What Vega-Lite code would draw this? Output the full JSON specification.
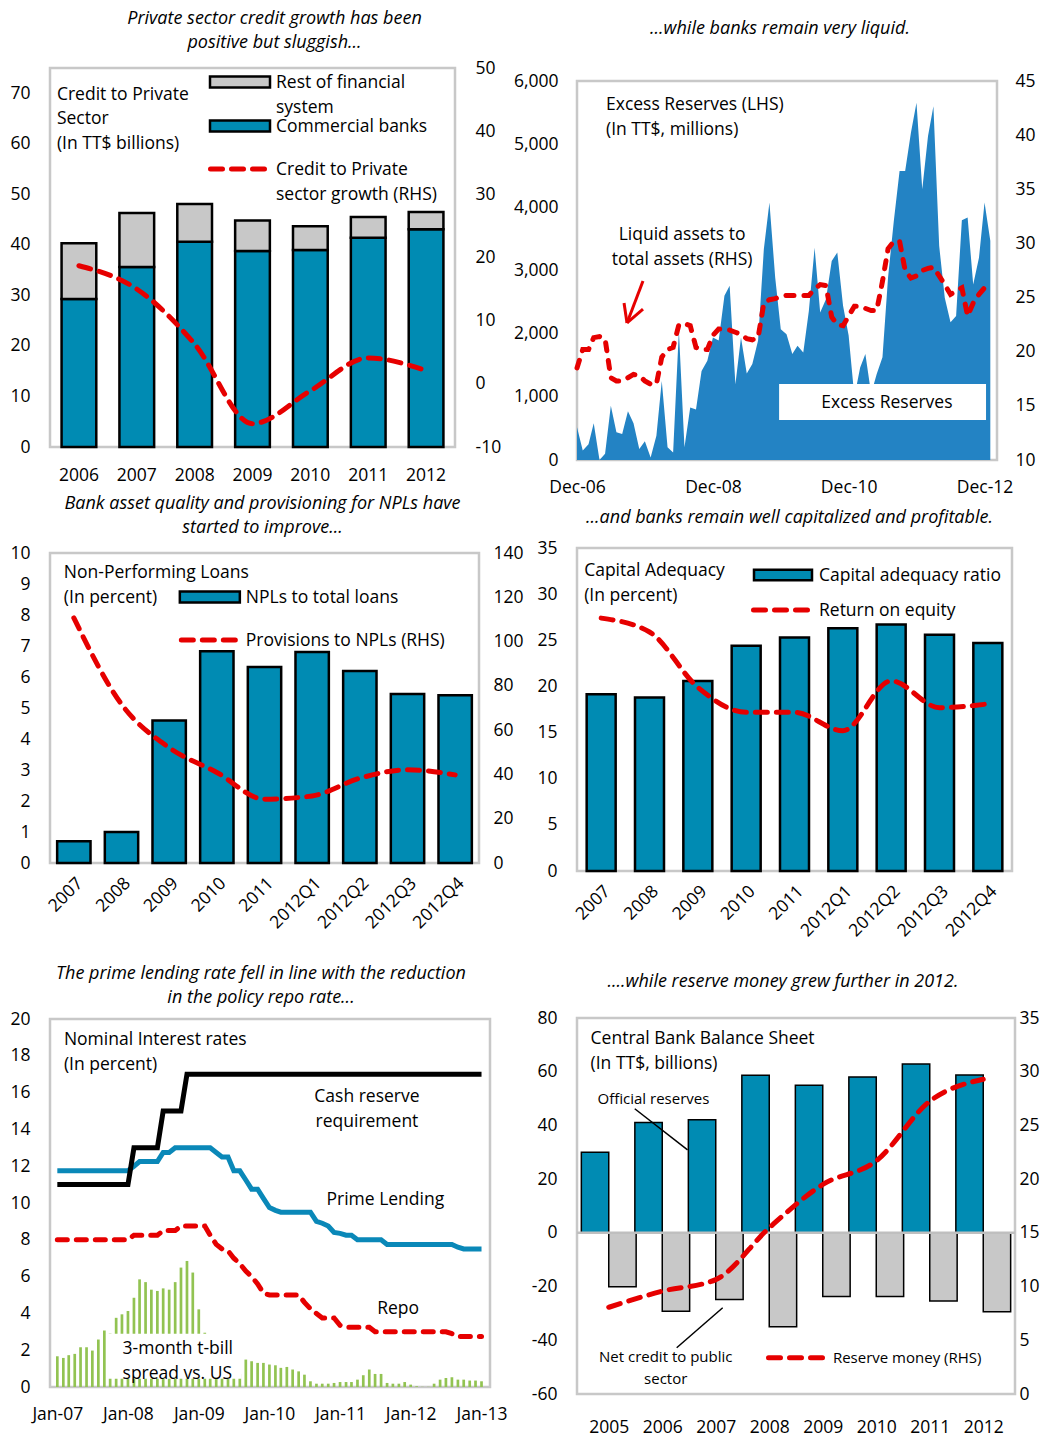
{
"$schema": "https://vega.github.io/schema/vega-lite/v6.json",
"padding": {"left": 0, "top": 8, "right": 0, "bottom": 0},
"datasets": {
"p1": [
{"year":"2006","series":"Commercial banks","value":29.3},{"year":"2006","series":"Rest of financial system","value":11.0},
{"year":"2007","series":"Commercial banks","value":35.6},{"year":"2007","series":"Rest of financial system","value":10.7},
{"year":"2008","series":"Commercial banks","value":40.6},{"year":"2008","series":"Rest of financial system","value":7.5},
{"year":"2009","series":"Commercial banks","value":38.8},{"year":"2009","series":"Rest of financial system","value":6.0},
{"year":"2010","series":"Commercial banks","value":39.0},{"year":"2010","series":"Rest of financial system","value":4.7},
{"year":"2011","series":"Commercial banks","value":41.4},{"year":"2011","series":"Rest of financial system","value":4.1},
{"year":"2012","series":"Commercial banks","value":43.1},{"year":"2012","series":"Rest of financial system","value":3.4}],
"p1g": [{"year":"2006","growth":18.7},{"year":"2007","growth":15.0},{"year":"2008","growth":6.3},{"year":"2009","growth":-6.3},{"year":"2010","growth":-1.1},{"year":"2011","growth":4.1},{"year":"2012","growth":2.1}],
"p2": [
{"d":"2006-12-01","er":520,"la":18.5},{"d":"2007-01-01","er":150,"la":20.2},{"d":"2007-02-01","er":250,"la":20.2},{"d":"2007-03-01","er":580,"la":21.3},{"d":"2007-04-01","er":0,"la":21.4},{"d":"2007-05-01","er":100,"la":21.2},{"d":"2007-06-01","er":860,"la":17.6},{"d":"2007-07-01","er":440,"la":17.3},{"d":"2007-08-01","er":410,"la":17.3},{"d":"2007-09-01","er":770,"la":17.6},{"d":"2007-10-01","er":580,"la":17.9},{"d":"2007-11-01","er":175,"la":17.8},
{"d":"2007-12-01","er":295,"la":17.3},{"d":"2008-01-01","er":40,"la":17.0},{"d":"2008-02-01","er":385,"la":17.0},{"d":"2008-03-01","er":1250,"la":19.5},{"d":"2008-04-01","er":200,"la":20.2},{"d":"2008-05-01","er":120,"la":20.4},{"d":"2008-06-01","er":2045,"la":22.5},{"d":"2008-07-01","er":200,"la":22.6},{"d":"2008-08-01","er":830,"la":22.4},{"d":"2008-09-01","er":800,"la":20.4},{"d":"2008-10-01","er":1410,"la":20.2},{"d":"2008-11-01","er":1570,"la":20.2},
{"d":"2008-12-01","er":1940,"la":21.5},{"d":"2009-01-01","er":1890,"la":22.1},{"d":"2009-02-01","er":2600,"la":22.1},{"d":"2009-03-01","er":2760,"la":22.0},{"d":"2009-04-01","er":1200,"la":21.8},{"d":"2009-05-01","er":1940,"la":21.6},{"d":"2009-06-01","er":1370,"la":21.2},{"d":"2009-07-01","er":1520,"la":21.1},{"d":"2009-08-01","er":1890,"la":21.3},{"d":"2009-09-01","er":3340,"la":24.5},{"d":"2009-10-01","er":4075,"la":24.8},{"d":"2009-11-01","er":2890,"la":24.9},
{"d":"2009-12-01","er":2070,"la":25.1},{"d":"2010-01-01","er":1990,"la":25.2},{"d":"2010-02-01","er":1680,"la":25.2},{"d":"2010-03-01","er":1810,"la":25.2},{"d":"2010-04-01","er":1700,"la":25.2},{"d":"2010-05-01","er":2360,"la":25.2},{"d":"2010-06-01","er":3360,"la":25.8},{"d":"2010-07-01","er":2335,"la":26.2},{"d":"2010-08-01","er":2545,"la":26.1},{"d":"2010-09-01","er":3150,"la":23.2},{"d":"2010-10-01","er":3285,"la":22.5},{"d":"2010-11-01","er":2440,"la":22.4},
{"d":"2010-12-01","er":1970,"la":23.3},{"d":"2011-01-01","er":1000,"la":24.2},{"d":"2011-02-01","er":1465,"la":24.2},{"d":"2011-03-01","er":1680,"la":24.0},{"d":"2011-04-01","er":1050,"la":23.8},{"d":"2011-05-01","er":1360,"la":23.8},{"d":"2011-06-01","er":1625,"la":26.5},{"d":"2011-07-01","er":2890,"la":29.5},{"d":"2011-08-01","er":3785,"la":30.2},{"d":"2011-09-01","er":4575,"la":30.2},{"d":"2011-10-01","er":4575,"la":27.5},{"d":"2011-11-01","er":5180,"la":26.8},
{"d":"2011-12-01","er":5655,"la":27.0},{"d":"2012-01-01","er":4285,"la":27.5},{"d":"2012-02-01","er":5130,"la":27.7},{"d":"2012-03-01","er":5600,"la":27.8},{"d":"2012-04-01","er":3390,"la":27.0},{"d":"2012-05-01","er":2570,"la":26.2},{"d":"2012-06-01","er":2180,"la":25.3},{"d":"2012-07-01","er":2280,"la":25.6},{"d":"2012-08-01","er":3795,"la":25.9},{"d":"2012-09-01","er":3840,"la":23.3},{"d":"2012-10-01","er":2780,"la":24.5},{"d":"2012-11-01","er":3200,"la":25.3},
{"d":"2012-12-01","er":4075,"la":25.9},{"d":"2013-01-01","er":3470,"la":null}],
"p3": [
{"cat":"2007","npl":0.70,"prov":110.7},{"cat":"2008","npl":1.0,"prov":71.7},{"cat":"2009","npl":4.6,"prov":52.1},{"cat":"2010","npl":6.83,"prov":40.9},{"cat":"2011","npl":6.32,"prov":28.8},{"cat":"2012Q1","npl":6.81,"prov":30.3},{"cat":"2012Q2","npl":6.19,"prov":38.3},{"cat":"2012Q3","npl":5.45,"prov":42.1},{"cat":"2012Q4","npl":5.41,"prov":39.8}],
"p4": [
{"cat":"2007","car":19.15,"roe":27.4},{"cat":"2008","car":18.8,"roe":25.9},{"cat":"2009","car":20.6,"roe":19.9},{"cat":"2010","car":24.4,"roe":17.2},{"cat":"2011","car":25.3,"roe":17.2},{"cat":"2012Q1","car":26.3,"roe":15.2},{"cat":"2012Q2","car":26.7,"roe":20.6},{"cat":"2012Q3","car":25.6,"roe":17.7},{"cat":"2012Q4","car":24.7,"roe":18.1}],
"p5": [
{"d":"2007-01-01","crr":11,"pl":11.75,"repo":8.0,"tb":1.67},{"d":"2007-02-01","crr":11,"pl":11.75,"repo":8.0,"tb":1.58},{"d":"2007-03-01","crr":11,"pl":11.75,"repo":8.0,"tb":1.73},{"d":"2007-04-01","crr":11,"pl":11.75,"repo":8.0,"tb":1.8},{"d":"2007-05-01","crr":11,"pl":11.75,"repo":8.0,"tb":2.16},{"d":"2007-06-01","crr":11,"pl":11.75,"repo":8.0,"tb":2.16},{"d":"2007-07-01","crr":11,"pl":11.75,"repo":8.0,"tb":1.98},{"d":"2007-08-01","crr":11,"pl":11.75,"repo":8.0,"tb":2.58},{"d":"2007-09-01","crr":11,"pl":11.75,"repo":8.0,"tb":3.07},{"d":"2007-10-01","crr":11,"pl":11.75,"repo":8.0,"tb":2.9},{"d":"2007-11-01","crr":11,"pl":11.75,"repo":8.0,"tb":3.76},{"d":"2007-12-01","crr":11,"pl":11.75,"repo":8.0,"tb":3.95},
{"d":"2008-01-01","crr":11,"pl":11.75,"repo":8.0,"tb":4.13},{"d":"2008-02-01","crr":13,"pl":12.0,"repo":8.25,"tb":4.85},{"d":"2008-03-01","crr":13,"pl":12.25,"repo":8.25,"tb":5.85},{"d":"2008-04-01","crr":13,"pl":12.25,"repo":8.25,"tb":5.7},{"d":"2008-05-01","crr":13,"pl":12.25,"repo":8.25,"tb":5.29},{"d":"2008-06-01","crr":13,"pl":12.25,"repo":8.25,"tb":5.22},{"d":"2008-07-01","crr":15,"pl":12.75,"repo":8.5,"tb":5.36},{"d":"2008-08-01","crr":15,"pl":12.75,"repo":8.5,"tb":5.29},{"d":"2008-09-01","crr":15,"pl":13.0,"repo":8.5,"tb":5.7},{"d":"2008-10-01","crr":15,"pl":13.0,"repo":8.75,"tb":6.49},{"d":"2008-11-01","crr":17,"pl":13.0,"repo":8.75,"tb":6.85},{"d":"2008-12-01","crr":17,"pl":13.0,"repo":8.75,"tb":6.22},
{"d":"2009-01-01","crr":17,"pl":13.0,"repo":8.75,"tb":4.22},{"d":"2009-02-01","crr":17,"pl":13.0,"repo":8.75,"tb":2.95},{"d":"2009-03-01","crr":17,"pl":13.0,"repo":8.25,"tb":2.2},{"d":"2009-04-01","crr":17,"pl":12.75,"repo":7.75,"tb":1.8},{"d":"2009-05-01","crr":17,"pl":12.5,"repo":7.5,"tb":1.4},{"d":"2009-06-01","crr":17,"pl":12.5,"repo":7.4,"tb":1.1},{"d":"2009-07-01","crr":17,"pl":11.75,"repo":7.0,"tb":0.9},{"d":"2009-08-01","crr":17,"pl":11.75,"repo":6.7,"tb":0.7},{"d":"2009-09-01","crr":17,"pl":11.25,"repo":6.3,"tb":1.49},{"d":"2009-10-01","crr":17,"pl":10.75,"repo":6.0,"tb":1.4},{"d":"2009-11-01","crr":17,"pl":10.75,"repo":5.6,"tb":1.31},{"d":"2009-12-01","crr":17,"pl":10.25,"repo":5.1,"tb":1.31},
{"d":"2010-01-01","crr":17,"pl":9.75,"repo":5.0,"tb":1.22},{"d":"2010-02-01","crr":17,"pl":9.6,"repo":5.0,"tb":1.18},{"d":"2010-03-01","crr":17,"pl":9.5,"repo":5.0,"tb":1.04},{"d":"2010-04-01","crr":17,"pl":9.5,"repo":5.0,"tb":1.09},{"d":"2010-05-01","crr":17,"pl":9.5,"repo":5.0,"tb":0.95},{"d":"2010-06-01","crr":17,"pl":9.5,"repo":5.0,"tb":0.85},{"d":"2010-07-01","crr":17,"pl":9.5,"repo":4.6,"tb":0.67},{"d":"2010-08-01","crr":17,"pl":9.5,"repo":4.25,"tb":0.31},{"d":"2010-09-01","crr":17,"pl":9.0,"repo":4.0,"tb":0.18},{"d":"2010-10-01","crr":17,"pl":8.9,"repo":3.75,"tb":0.18},{"d":"2010-11-01","crr":17,"pl":8.75,"repo":3.75,"tb":0.18},{"d":"2010-12-01","crr":17,"pl":8.4,"repo":3.75,"tb":0.22},
{"d":"2011-01-01","crr":17,"pl":8.35,"repo":3.35,"tb":0.27},{"d":"2011-02-01","crr":17,"pl":8.25,"repo":3.25,"tb":0.27},{"d":"2011-03-01","crr":17,"pl":8.25,"repo":3.25,"tb":0.27},{"d":"2011-04-01","crr":17,"pl":8.0,"repo":3.25,"tb":0.4},{"d":"2011-05-01","crr":17,"pl":8.0,"repo":3.25,"tb":0.64},{"d":"2011-06-01","crr":17,"pl":8.0,"repo":3.25,"tb":0.95},{"d":"2011-07-01","crr":17,"pl":8.0,"repo":3.0,"tb":0.71},{"d":"2011-08-01","crr":17,"pl":8.0,"repo":3.0,"tb":0.71},{"d":"2011-09-01","crr":17,"pl":7.75,"repo":3.0,"tb":0.22},{"d":"2011-10-01","crr":17,"pl":7.75,"repo":3.0,"tb":0.18},{"d":"2011-11-01","crr":17,"pl":7.75,"repo":3.0,"tb":0.18},{"d":"2011-12-01","crr":17,"pl":7.75,"repo":3.0,"tb":0.27},
{"d":"2012-01-01","crr":17,"pl":7.75,"repo":3.0,"tb":0.13},{"d":"2012-02-01","crr":17,"pl":7.75,"repo":3.0,"tb":0.04},{"d":"2012-03-01","crr":17,"pl":7.75,"repo":3.0,"tb":0.01},{"d":"2012-04-01","crr":17,"pl":7.75,"repo":3.0,"tb":0.01},{"d":"2012-05-01","crr":17,"pl":7.75,"repo":3.0,"tb":0.18},{"d":"2012-06-01","crr":17,"pl":7.75,"repo":3.0,"tb":0.4},{"d":"2012-07-01","crr":17,"pl":7.75,"repo":3.0,"tb":0.49},{"d":"2012-08-01","crr":17,"pl":7.75,"repo":2.9,"tb":0.53},{"d":"2012-09-01","crr":17,"pl":7.6,"repo":2.75,"tb":0.4},{"d":"2012-10-01","crr":17,"pl":7.5,"repo":2.75,"tb":0.4},{"d":"2012-11-01","crr":17,"pl":7.5,"repo":2.75,"tb":0.35},{"d":"2012-12-01","crr":17,"pl":7.5,"repo":2.75,"tb":0.35},
{"d":"2013-01-01","crr":17,"pl":7.5,"repo":2.75,"tb":0.31}],
"p6": [
{"year":2005,"res":30.0,"ncp":-20.1,"rm":8.07},{"year":2006,"res":41.1,"ncp":-29.2,"rm":9.57},{"year":2007,"res":42.1,"ncp":-24.8,"rm":10.65},{"year":2008,"res":58.7,"ncp":-35.0,"rm":15.47},{"year":2009,"res":55.0,"ncp":-23.7,"rm":19.5},{"year":2010,"res":58.0,"ncp":-23.7,"rm":21.7},{"year":2011,"res":62.9,"ncp":-25.4,"rm":27.25},{"year":2012,"res":58.8,"ncp":-29.4,"rm":29.3}]
},
"hconcat": [
{"vconcat": [
{
"width": 405, "height": 379,
"title": {"text": ["Private sector credit growth has been", "positive but sluggish..."], "dx": 22, "offset": 7},
"layer": [
{"layer": [
{"data": {"name": "p1"}, "mark": {"type": "bar", "stroke": "#000000", "strokeWidth": 2.5},
"encoding": {
"x": {"field": "year", "type": "ordinal", "scale": {"paddingInner": 0.4, "paddingOuter": 0.2}, "axis": {"labelAngle": 0, "labelPadding": 19, "title": null}},
"y": {"field": "value", "type": "quantitative", "stack": "zero", "scale": {"domain": [0, 75], "nice": false}, "axis": {"values": [0,10,20,30,40,50,60,70], "minExtent": 48, "title": null}},
"fill": {"field": "series", "type": "nominal", "scale": {"domain": ["Commercial banks", "Rest of financial system"], "range": ["#008BB3", "#C8C8C8"]}, "legend": null},
"order": {"field": "series", "type": "nominal", "sort": "ascending"}}},
{"data": {"values": [{}]}, "mark": {"type": "text", "align": "left", "baseline": "alphabetic", "lineBreak": "\n", "lineHeight": 24.5, "dx": -22},
"encoding": {"x": {"datum": "2006", "type": "ordinal", "axis": {"labelAngle": 0, "labelPadding": 19, "title": null}}, "y": {"datum": 68.67, "type": "quantitative", "axis": {"values": [0,10,20,30,40,50,60,70], "minExtent": 48, "title": null}}, "text": {"value": "Credit to Private\nSector\n(In TT$ billions)"}}},
{"data": {"values": [{}]}, "mark": {"type": "point", "shape": "M-1,-0.18H1V0.18H-1Z", "size": 3600, "filled": true, "fill": "#C8C8C8", "stroke": "#000000", "strokeWidth": 2.5, "opacity": 1, "xOffset": -12.5},
"encoding": {"x": {"datum": "2009", "type": "ordinal", "axis": {"labelAngle": 0, "labelPadding": 19, "title": null}}, "y": {"datum": 72.23, "type": "quantitative", "axis": {"values": [0,10,20,30,40,50,60,70], "minExtent": 48, "title": null}}}},
{"data": {"values": [{}]}, "mark": {"type": "point", "shape": "M-1,-0.18H1V0.18H-1Z", "size": 3600, "filled": true, "fill": "#008BB3", "stroke": "#000000", "strokeWidth": 2.5, "opacity": 1, "xOffset": -12.5},
"encoding": {"x": {"datum": "2009", "type": "ordinal", "axis": {"labelAngle": 0, "labelPadding": 19, "title": null}}, "y": {"datum": 63.52, "type": "quantitative", "axis": {"values": [0,10,20,30,40,50,60,70], "minExtent": 48, "title": null}}}},
{"data": {"values": [{}]}, "mark": {"type": "point", "shape": "stroke", "size": 3025, "filled": false, "stroke": "#E60000", "strokeWidth": 5, "strokeDash": [12, 9], "strokeCap": "round", "opacity": 1, "xOffset": -14.5},
"encoding": {"x": {"datum": "2009", "type": "ordinal", "axis": {"labelAngle": 0, "labelPadding": 19, "title": null}}, "y": {"datum": 55.01, "type": "quantitative", "axis": {"values": [0,10,20,30,40,50,60,70], "minExtent": 48, "title": null}}}},
{"data": {"values": [{}]}, "mark": {"type": "text", "align": "left", "baseline": "alphabetic", "lineBreak": "\n", "lineHeight": 25, "dx": 23.5},
"encoding": {"x": {"datum": "2009", "type": "ordinal", "axis": {"labelAngle": 0, "labelPadding": 19, "title": null}}, "y": {"datum": 71.04, "type": "quantitative", "axis": {"values": [0,10,20,30,40,50,60,70], "minExtent": 48, "title": null}}, "text": {"value": "Rest of financial\nsystem"}}},
{"data": {"values": [{}]}, "mark": {"type": "text", "align": "left", "baseline": "alphabetic", "dx": 23.5},
"encoding": {"x": {"datum": "2009", "type": "ordinal", "axis": {"labelAngle": 0, "labelPadding": 19, "title": null}}, "y": {"datum": 62.33, "type": "quantitative", "axis": {"values": [0,10,20,30,40,50,60,70], "minExtent": 48, "title": null}}, "text": {"value": "Commercial banks"}}},
{"data": {"values": [{}]}, "mark": {"type": "text", "align": "left", "baseline": "alphabetic", "lineBreak": "\n", "lineHeight": 25, "dx": 23.5},
"encoding": {"x": {"datum": "2009", "type": "ordinal", "axis": {"labelAngle": 0, "labelPadding": 19, "title": null}}, "y": {"datum": 53.83, "type": "quantitative", "axis": {"values": [0,10,20,30,40,50,60,70], "minExtent": 48, "title": null}}, "text": {"value": "Credit to Private\nsector growth (RHS)"}}}
]},
{"data": {"name": "p1g"}, "mark": {"type": "line", "color": "#E60000", "strokeWidth": 5, "strokeDash": [12, 9], "strokeCap": "round", "interpolate": "monotone"},
"encoding": {"x": {"field": "year", "type": "ordinal", "axis": {"labelAngle": 0, "labelPadding": 19, "title": null}}, "y": {"field": "growth", "type": "quantitative", "scale": {"domain": [-10, 50], "nice": false}, "axis": {"orient": "right", "values": [-10,0,10,20,30,40,50], "labelExpr": "'' + datum.value", "title": null}}}}
],
"resolve": {"scale": {"y": "independent"}}
},
{"vconcat": [
{
"width": 429, "height": 310,
"title": {"text": ["Bank asset quality and provisioning for NPLs have", "started to improve..."], "dx": -2, "offset": 7},
"layer": [
{"layer": [
{"data": {"name": "p3"}, "mark": {"type": "bar", "fill": "#008BB3", "stroke": "#000000", "strokeWidth": 2.5},
"encoding": {
"x": {"field": "cat", "type": "ordinal", "scale": {"paddingInner": 0.3, "paddingOuter": 0.15}, "axis": {"labelAngle": -45, "labelPadding": 11, "title": null}},
"y": {"field": "npl", "type": "quantitative", "scale": {"domain": [0, 10], "nice": false}, "axis": {"values": [0,1,2,3,4,5,6,7,8,9,10], "minExtent": 48, "title": null}}}},
{"data": {"values": [{}]}, "mark": {"type": "text", "align": "left", "baseline": "alphabetic", "lineBreak": "\n", "lineHeight": 25, "dx": -10},
"encoding": {"x": {"datum": "2007", "type": "ordinal", "axis": {"labelAngle": -45, "labelPadding": 11, "title": null}}, "y": {"datum": 9.19, "type": "quantitative", "axis": {"values": [0,1,2,3,4,5,6,7,8,9,10], "minExtent": 48, "title": null}}, "text": {"value": "Non-Performing Loans\n(In percent)"}}},
{"data": {"values": [{}]}, "mark": {"type": "point", "shape": "M-1,-0.18H1V0.18H-1Z", "size": 3600, "filled": true, "fill": "#008BB3", "stroke": "#000000", "strokeWidth": 2.5, "opacity": 1, "xOffset": -7},
"encoding": {"x": {"datum": "2010", "type": "ordinal", "axis": {"labelAngle": -45, "labelPadding": 11, "title": null}}, "y": {"datum": 8.58, "type": "quantitative", "axis": {"values": [0,1,2,3,4,5,6,7,8,9,10], "minExtent": 48, "title": null}}}},
{"data": {"values": [{}]}, "mark": {"type": "point", "shape": "stroke", "size": 3025, "filled": false, "stroke": "#E60000", "strokeWidth": 5, "strokeDash": [12, 9], "strokeCap": "round", "opacity": 1, "xOffset": -8},
"encoding": {"x": {"datum": "2010", "type": "ordinal", "axis": {"labelAngle": -45, "labelPadding": 11, "title": null}}, "y": {"datum": 7.19, "type": "quantitative", "axis": {"values": [0,1,2,3,4,5,6,7,8,9,10], "minExtent": 48, "title": null}}}},
{"data": {"values": [{}]}, "mark": {"type": "text", "align": "left", "baseline": "alphabetic", "dx": 29},
"encoding": {"x": {"datum": "2010", "type": "ordinal", "axis": {"labelAngle": -45, "labelPadding": 11, "title": null}}, "y": {"datum": 8.39, "type": "quantitative", "axis": {"values": [0,1,2,3,4,5,6,7,8,9,10], "minExtent": 48, "title": null}}, "text": {"value": "NPLs to total loans"}}},
{"data": {"values": [{}]}, "mark": {"type": "text", "align": "left", "baseline": "alphabetic", "dx": 29},
"encoding": {"x": {"datum": "2010", "type": "ordinal", "axis": {"labelAngle": -45, "labelPadding": 11, "title": null}}, "y": {"datum": 7.0, "type": "quantitative", "axis": {"values": [0,1,2,3,4,5,6,7,8,9,10], "minExtent": 48, "title": null}}, "text": {"value": "Provisions to NPLs (RHS)"}}}
]},
{"data": {"name": "p3"}, "mark": {"type": "line", "color": "#E60000", "strokeWidth": 5, "strokeDash": [12, 9], "strokeCap": "round", "interpolate": "monotone"},
"encoding": {"x": {"field": "cat", "type": "ordinal", "axis": {"labelAngle": -45, "labelPadding": 11, "title": null}}, "y": {"field": "prov", "type": "quantitative", "scale": {"domain": [0, 140], "nice": false}, "axis": {"orient": "right", "values": [0,20,40,60,80,100,120,140], "labelPadding": 14, "minExtent": 46, "title": null}}}}
],
"resolve": {"scale": {"y": "independent"}}
},
{
"width": 440, "height": 368,
"title": {"text": ["The prime lending rate fell in line with the reduction", "in the policy repo rate..."], "dx": -9, "offset": 3},
"layer": [
{"data": {"name": "p5"}, "mark": {"type": "bar", "color": "#92C352", "width": 2.7},
"encoding": {
"x": {"field": "d", "type": "temporal", "scale": {"type": "utc", "domain": [{"year": 2006, "month": 12, "date": 20, "utc": true}, {"year": 2013, "month": 1, "date": 19, "utc": true}]}, "axis": {"values": [{"year":2007,"month":1,"date":1,"utc":true},{"year":2008,"month":1,"date":1,"utc":true},{"year":2009,"month":1,"date":1,"utc":true},{"year":2010,"month":1,"date":1,"utc":true},{"year":2011,"month":1,"date":1,"utc":true},{"year":2012,"month":1,"date":1,"utc":true},{"year":2013,"month":1,"date":1,"utc":true}], "labelExpr": "utcFormat(datum.value, '%b-%y')", "labelPadding": 18, "labelFlush": false, "labelOverlap": false, "title": null}},
"y": {"field": "tb", "type": "quantitative", "scale": {"domain": [0, 20], "nice": false}, "axis": {"values": [0,2,4,6,8,10,12,14,16,18,20], "minExtent": 48, "title": null}}}},
{"data": {"values": [{}]}, "mark": {"type": "rect", "fill": "#FFFFFF"},
"encoding": {"x": {"datum": {"year": 2007, "month": 9, "date": 20, "utc": true}, "type": "temporal", "axis": {"values": [{"year":2007,"month":1,"date":1,"utc":true},{"year":2008,"month":1,"date":1,"utc":true},{"year":2009,"month":1,"date":1,"utc":true},{"year":2010,"month":1,"date":1,"utc":true},{"year":2011,"month":1,"date":1,"utc":true},{"year":2012,"month":1,"date":1,"utc":true},{"year":2013,"month":1,"date":1,"utc":true}], "labelExpr": "utcFormat(datum.value, '%b-%y')", "labelPadding": 18, "labelFlush": false, "labelOverlap": false, "title": null}}, "x2": {"datum": {"year": 2009, "month": 8, "date": 10, "utc": true}}, "y": {"datum": 0.45, "type": "quantitative", "axis": {"values": [0,2,4,6,8,10,12,14,16,18,20], "minExtent": 48, "title": null}}, "y2": {"datum": 2.89}}},
{"data": {"name": "p5"}, "mark": {"type": "line", "color": "#0A88B8", "strokeWidth": 5},
"encoding": {"x": {"field": "d", "type": "temporal", "axis": {"values": [{"year":2007,"month":1,"date":1,"utc":true},{"year":2008,"month":1,"date":1,"utc":true},{"year":2009,"month":1,"date":1,"utc":true},{"year":2010,"month":1,"date":1,"utc":true},{"year":2011,"month":1,"date":1,"utc":true},{"year":2012,"month":1,"date":1,"utc":true},{"year":2013,"month":1,"date":1,"utc":true}], "labelExpr": "utcFormat(datum.value, '%b-%y')", "labelPadding": 18, "labelFlush": false, "labelOverlap": false, "title": null}}, "y": {"field": "pl", "type": "quantitative", "axis": {"values": [0,2,4,6,8,10,12,14,16,18,20], "minExtent": 48, "title": null}}}},
{"data": {"name": "p5"}, "mark": {"type": "line", "color": "#E60000", "strokeWidth": 5, "strokeDash": [10, 9], "strokeCap": "round"},
"encoding": {"x": {"field": "d", "type": "temporal", "axis": {"values": [{"year":2007,"month":1,"date":1,"utc":true},{"year":2008,"month":1,"date":1,"utc":true},{"year":2009,"month":1,"date":1,"utc":true},{"year":2010,"month":1,"date":1,"utc":true},{"year":2011,"month":1,"date":1,"utc":true},{"year":2012,"month":1,"date":1,"utc":true},{"year":2013,"month":1,"date":1,"utc":true}], "labelExpr": "utcFormat(datum.value, '%b-%y')", "labelPadding": 18, "labelFlush": false, "labelOverlap": false, "title": null}}, "y": {"field": "repo", "type": "quantitative", "axis": {"values": [0,2,4,6,8,10,12,14,16,18,20], "minExtent": 48, "title": null}}}},
{"data": {"name": "p5"}, "mark": {"type": "line", "color": "#000000", "strokeWidth": 5},
"encoding": {"x": {"field": "d", "type": "temporal", "axis": {"values": [{"year":2007,"month":1,"date":1,"utc":true},{"year":2008,"month":1,"date":1,"utc":true},{"year":2009,"month":1,"date":1,"utc":true},{"year":2010,"month":1,"date":1,"utc":true},{"year":2011,"month":1,"date":1,"utc":true},{"year":2012,"month":1,"date":1,"utc":true},{"year":2013,"month":1,"date":1,"utc":true}], "labelExpr": "utcFormat(datum.value, '%b-%y')", "labelPadding": 18, "labelFlush": false, "labelOverlap": false, "title": null}}, "y": {"field": "crr", "type": "quantitative", "axis": {"values": [0,2,4,6,8,10,12,14,16,18,20], "minExtent": 48, "title": null}}}},
{"data": {"values": [{}]}, "mark": {"type": "text", "align": "left", "baseline": "alphabetic", "lineBreak": "\n", "lineHeight": 25},
"encoding": {"x": {"datum": {"year": 2007, "month": 2, "date": 4, "utc": true}, "type": "temporal", "axis": {"values": [{"year":2007,"month":1,"date":1,"utc":true},{"year":2008,"month":1,"date":1,"utc":true},{"year":2009,"month":1,"date":1,"utc":true},{"year":2010,"month":1,"date":1,"utc":true},{"year":2011,"month":1,"date":1,"utc":true},{"year":2012,"month":1,"date":1,"utc":true},{"year":2013,"month":1,"date":1,"utc":true}], "labelExpr": "utcFormat(datum.value, '%b-%y')", "labelPadding": 18, "labelFlush": false, "labelOverlap": false, "title": null}}, "y": {"datum": 18.59, "type": "quantitative", "axis": {"values": [0,2,4,6,8,10,12,14,16,18,20], "minExtent": 48, "title": null}}, "text": {"value": "Nominal Interest rates\n(In percent)"}}},
{"data": {"values": [{}]}, "mark": {"type": "text", "align": "center", "baseline": "alphabetic", "lineBreak": "\n", "lineHeight": 25},
"encoding": {"x": {"datum": {"year": 2011, "month": 5, "date": 20, "utc": true}, "type": "temporal", "axis": {"values": [{"year":2007,"month":1,"date":1,"utc":true},{"year":2008,"month":1,"date":1,"utc":true},{"year":2009,"month":1,"date":1,"utc":true},{"year":2010,"month":1,"date":1,"utc":true},{"year":2011,"month":1,"date":1,"utc":true},{"year":2012,"month":1,"date":1,"utc":true},{"year":2013,"month":1,"date":1,"utc":true}], "labelExpr": "utcFormat(datum.value, '%b-%y')", "labelPadding": 18, "labelFlush": false, "labelOverlap": false, "title": null}}, "y": {"datum": 15.49, "type": "quantitative", "axis": {"values": [0,2,4,6,8,10,12,14,16,18,20], "minExtent": 48, "title": null}}, "text": {"value": "Cash reserve\nrequirement"}}},
{"data": {"values": [{}]}, "mark": {"type": "text", "align": "center", "baseline": "alphabetic"},
"encoding": {"x": {"datum": {"year": 2011, "month": 8, "date": 23, "utc": true}, "type": "temporal", "axis": {"values": [{"year":2007,"month":1,"date":1,"utc":true},{"year":2008,"month":1,"date":1,"utc":true},{"year":2009,"month":1,"date":1,"utc":true},{"year":2010,"month":1,"date":1,"utc":true},{"year":2011,"month":1,"date":1,"utc":true},{"year":2012,"month":1,"date":1,"utc":true},{"year":2013,"month":1,"date":1,"utc":true}], "labelExpr": "utcFormat(datum.value, '%b-%y')", "labelPadding": 18, "labelFlush": false, "labelOverlap": false, "title": null}}, "y": {"datum": 9.89, "type": "quantitative", "axis": {"values": [0,2,4,6,8,10,12,14,16,18,20], "minExtent": 48, "title": null}}, "text": {"value": "Prime Lending"}}},
{"data": {"values": [{}]}, "mark": {"type": "text", "align": "center", "baseline": "alphabetic"},
"encoding": {"x": {"datum": {"year": 2011, "month": 10, "date": 28, "utc": true}, "type": "temporal", "axis": {"values": [{"year":2007,"month":1,"date":1,"utc":true},{"year":2008,"month":1,"date":1,"utc":true},{"year":2009,"month":1,"date":1,"utc":true},{"year":2010,"month":1,"date":1,"utc":true},{"year":2011,"month":1,"date":1,"utc":true},{"year":2012,"month":1,"date":1,"utc":true},{"year":2013,"month":1,"date":1,"utc":true}], "labelExpr": "utcFormat(datum.value, '%b-%y')", "labelPadding": 18, "labelFlush": false, "labelOverlap": false, "title": null}}, "y": {"datum": 3.97, "type": "quantitative", "axis": {"values": [0,2,4,6,8,10,12,14,16,18,20], "minExtent": 48, "title": null}}, "text": {"value": "Repo"}}},
{"data": {"values": [{}]}, "mark": {"type": "text", "align": "left", "baseline": "alphabetic", "lineBreak": "\n", "lineHeight": 25},
"encoding": {"x": {"datum": {"year": 2007, "month": 12, "date": 4, "utc": true}, "type": "temporal", "axis": {"values": [{"year":2007,"month":1,"date":1,"utc":true},{"year":2008,"month":1,"date":1,"utc":true},{"year":2009,"month":1,"date":1,"utc":true},{"year":2010,"month":1,"date":1,"utc":true},{"year":2011,"month":1,"date":1,"utc":true},{"year":2012,"month":1,"date":1,"utc":true},{"year":2013,"month":1,"date":1,"utc":true}], "labelExpr": "utcFormat(datum.value, '%b-%y')", "labelPadding": 18, "labelFlush": false, "labelOverlap": false, "title": null}}, "y": {"datum": 1.79, "type": "quantitative", "axis": {"values": [0,2,4,6,8,10,12,14,16,18,20], "minExtent": 48, "title": null}}, "text": {"value": "3-month t-bill\nspread vs. US"}}}
]
}
], "spacing": 30}
], "spacing": 8},
{"vconcat": [
{"width": 420, "height": 1, "view": {"stroke": null}, "title": {"text": "...while banks remain very liquid.", "dx": -7, "offset": 22},
"data": {"values": [{}]}, "mark": {"type": "text"}, "encoding": {"text": {"value": ""}}},
{"vconcat": [
{
"width": 420, "height": 379,
"layer": [
{"layer": [
{"data": {"name": "p2"}, "mark": {"type": "area", "color": "#2383C4", "opacity": 1},
"encoding": {
"x": {"field": "d", "type": "temporal", "scale": {"type": "utc", "domain": [{"year": 2006, "month": 12, "date": 1, "utc": true}, {"year": 2013, "month": 2, "date": 6, "utc": true}]}, "axis": {"values": [{"year":2006,"month":12,"date":1,"utc":true},{"year":2008,"month":12,"date":1,"utc":true},{"year":2010,"month":12,"date":1,"utc":true},{"year":2012,"month":12,"date":1,"utc":true}], "labelExpr": "utcFormat(datum.value, '%b-%y')", "labelPadding": 18, "labelFlush": false, "labelOverlap": false, "title": null}},
"y": {"field": "er", "type": "quantitative", "scale": {"domain": [0, 6000], "nice": false}, "axis": {"values": [0,1000,2000,3000,4000,5000,6000], "labelExpr": "format(datum.value, ',')", "minExtent": 64, "labelPadding": 19, "title": null}}}},
{"data": {"values": [{}]}, "mark": {"type": "rect", "fill": "#FFFFFF"},
"encoding": {"x": {"datum": {"year": 2009, "month": 11, "date": 22, "utc": true}, "type": "temporal", "axis": {"values": [{"year":2006,"month":12,"date":1,"utc":true},{"year":2008,"month":12,"date":1,"utc":true},{"year":2010,"month":12,"date":1,"utc":true},{"year":2012,"month":12,"date":1,"utc":true}], "labelExpr": "utcFormat(datum.value, '%b-%y')", "labelPadding": 18, "labelFlush": false, "labelOverlap": false, "title": null}}, "x2": {"datum": {"year": 2012, "month": 12, "date": 9, "utc": true}}, "y": {"datum": 1203, "type": "quantitative", "axis": {"values": [0,1000,2000,3000,4000,5000,6000], "labelExpr": "format(datum.value, ',')", "minExtent": 64, "labelPadding": 19, "title": null}}, "y2": {"datum": 633}}},
{"data": {"values": [{}]}, "mark": {"type": "text", "align": "center", "baseline": "alphabetic"},
"encoding": {"x": {"datum": {"year": 2011, "month": 6, "date": 25, "utc": true}, "type": "temporal", "axis": {"values": [{"year":2006,"month":12,"date":1,"utc":true},{"year":2008,"month":12,"date":1,"utc":true},{"year":2010,"month":12,"date":1,"utc":true},{"year":2012,"month":12,"date":1,"utc":true}], "labelExpr": "utcFormat(datum.value, '%b-%y')", "labelPadding": 18, "labelFlush": false, "labelOverlap": false, "title": null}}, "y": {"datum": 823, "type": "quantitative", "axis": {"values": [0,1000,2000,3000,4000,5000,6000], "labelExpr": "format(datum.value, ',')", "minExtent": 64, "labelPadding": 19, "title": null}}, "text": {"value": "Excess Reserves"}}},
{"data": {"values": [{}]}, "mark": {"type": "text", "align": "left", "baseline": "alphabetic", "lineBreak": "\n", "lineHeight": 25},
"encoding": {"x": {"datum": {"year": 2007, "month": 5, "date": 6, "utc": true}, "type": "temporal", "axis": {"values": [{"year":2006,"month":12,"date":1,"utc":true},{"year":2008,"month":12,"date":1,"utc":true},{"year":2010,"month":12,"date":1,"utc":true},{"year":2012,"month":12,"date":1,"utc":true}], "labelExpr": "utcFormat(datum.value, '%b-%y')", "labelPadding": 18, "labelFlush": false, "labelOverlap": false, "title": null}}, "y": {"datum": 5541, "type": "quantitative", "axis": {"values": [0,1000,2000,3000,4000,5000,6000], "labelExpr": "format(datum.value, ',')", "minExtent": 64, "labelPadding": 19, "title": null}}, "text": {"value": "Excess Reserves (LHS)\n(In TT$, millions)"}}},
{"data": {"values": [{}]}, "mark": {"type": "text", "align": "center", "baseline": "alphabetic", "lineBreak": "\n", "lineHeight": 25},
"encoding": {"x": {"datum": {"year": 2008, "month": 6, "date": 18, "utc": true}, "type": "temporal", "axis": {"values": [{"year":2006,"month":12,"date":1,"utc":true},{"year":2008,"month":12,"date":1,"utc":true},{"year":2010,"month":12,"date":1,"utc":true},{"year":2012,"month":12,"date":1,"utc":true}], "labelExpr": "utcFormat(datum.value, '%b-%y')", "labelPadding": 18, "labelFlush": false, "labelOverlap": false, "title": null}}, "y": {"datum": 3483, "type": "quantitative", "axis": {"values": [0,1000,2000,3000,4000,5000,6000], "labelExpr": "format(datum.value, ',')", "minExtent": 64, "labelPadding": 19, "title": null}}, "text": {"value": "Liquid assets to\ntotal assets (RHS)"}}},
{"data": {"values": [{}]}, "mark": {"type": "rule", "color": "#E60000", "strokeWidth": 3},
"encoding": {"x": {"datum": {"year": 2007, "month": 11, "date": 21, "utc": true}, "type": "temporal", "axis": {"values": [{"year":2006,"month":12,"date":1,"utc":true},{"year":2008,"month":12,"date":1,"utc":true},{"year":2010,"month":12,"date":1,"utc":true},{"year":2012,"month":12,"date":1,"utc":true}], "labelExpr": "utcFormat(datum.value, '%b-%y')", "labelPadding": 18, "labelFlush": false, "labelOverlap": false, "title": null}}, "x2": {"datum": {"year": 2007, "month": 8, "date": 27, "utc": true}}, "y": {"datum": 2834, "type": "quantitative", "axis": {"values": [0,1000,2000,3000,4000,5000,6000], "labelExpr": "format(datum.value, ',')", "minExtent": 64, "labelPadding": 19, "title": null}}, "y2": {"datum": 2169}}},
{"data": {"values": [{}]}, "mark": {"type": "rule", "color": "#E60000", "strokeWidth": 3},
"encoding": {"x": {"datum": {"year": 2007, "month": 8, "date": 27, "utc": true}, "type": "temporal", "axis": {"values": [{"year":2006,"month":12,"date":1,"utc":true},{"year":2008,"month":12,"date":1,"utc":true},{"year":2010,"month":12,"date":1,"utc":true},{"year":2012,"month":12,"date":1,"utc":true}], "labelExpr": "utcFormat(datum.value, '%b-%y')", "labelPadding": 18, "labelFlush": false, "labelOverlap": false, "title": null}}, "x2": {"datum": {"year": 2007, "month": 8, "date": 11, "utc": true}}, "y": {"datum": 2169, "type": "quantitative", "axis": {"values": [0,1000,2000,3000,4000,5000,6000], "labelExpr": "format(datum.value, ',')", "minExtent": 64, "labelPadding": 19, "title": null}}, "y2": {"datum": 2485}}},
{"data": {"values": [{}]}, "mark": {"type": "rule", "color": "#E60000", "strokeWidth": 3},
"encoding": {"x": {"datum": {"year": 2007, "month": 8, "date": 27, "utc": true}, "type": "temporal", "axis": {"values": [{"year":2006,"month":12,"date":1,"utc":true},{"year":2008,"month":12,"date":1,"utc":true},{"year":2010,"month":12,"date":1,"utc":true},{"year":2012,"month":12,"date":1,"utc":true}], "labelExpr": "utcFormat(datum.value, '%b-%y')", "labelPadding": 18, "labelFlush": false, "labelOverlap": false, "title": null}}, "x2": {"datum": {"year": 2007, "month": 11, "date": 21, "utc": true}}, "y": {"datum": 2169, "type": "quantitative", "axis": {"values": [0,1000,2000,3000,4000,5000,6000], "labelExpr": "format(datum.value, ',')", "minExtent": 64, "labelPadding": 19, "title": null}}, "y2": {"datum": 2390}}}
]},
{"data": {"name": "p2"}, "mark": {"type": "line", "color": "#E60000", "strokeWidth": 5, "strokeDash": [8, 10], "strokeCap": "round"},
"encoding": {"x": {"field": "d", "type": "temporal", "axis": {"values": [{"year":2006,"month":12,"date":1,"utc":true},{"year":2008,"month":12,"date":1,"utc":true},{"year":2010,"month":12,"date":1,"utc":true},{"year":2012,"month":12,"date":1,"utc":true}], "labelExpr": "utcFormat(datum.value, '%b-%y')", "labelPadding": 18, "labelFlush": false, "labelOverlap": false, "title": null}}, "y": {"field": "la", "type": "quantitative", "scale": {"domain": [10, 45], "nice": false}, "axis": {"orient": "right", "values": [10,15,20,25,30,35,40,45], "labelPadding": 18, "title": null}}}}
],
"resolve": {"scale": {"y": "independent"}}
},
{"vconcat": [
{
"width": 435, "height": 323,
"title": {"text": "...and banks remain well capitalized and profitable.", "dx": -5, "offset": 12},
"layer": [
{"data": {"name": "p4"}, "mark": {"type": "bar", "fill": "#008BB3", "stroke": "#000000", "strokeWidth": 2.5},
"encoding": {
"x": {"field": "cat", "type": "ordinal", "scale": {"paddingInner": 0.4, "paddingOuter": 0.2}, "axis": {"labelAngle": -45, "labelPadding": 11, "title": null}},
"y": {"field": "car", "type": "quantitative", "scale": {"domain": [0, 35], "nice": false}, "axis": {"values": [0,5,10,15,20,25,30,35], "minExtent": 64, "title": null}}}},
{"data": {"name": "p4"}, "mark": {"type": "line", "color": "#E60000", "strokeWidth": 5, "strokeDash": [12, 9], "strokeCap": "round", "interpolate": "monotone"},
"encoding": {"x": {"field": "cat", "type": "ordinal", "axis": {"labelAngle": -45, "labelPadding": 11, "title": null}}, "y": {"field": "roe", "type": "quantitative", "axis": {"values": [0,5,10,15,20,25,30,35], "minExtent": 64, "title": null}}}},
{"data": {"values": [{}]}, "mark": {"type": "text", "align": "left", "baseline": "alphabetic", "lineBreak": "\n", "lineHeight": 25, "dx": -17},
"encoding": {"x": {"datum": "2007", "type": "ordinal", "axis": {"labelAngle": -45, "labelPadding": 11, "title": null}}, "y": {"datum": 31.96, "type": "quantitative", "axis": {"values": [0,5,10,15,20,25,30,35], "minExtent": 64, "title": null}}, "text": {"value": "Capital Adequacy\n(In percent)"}}},
{"data": {"values": [{}]}, "mark": {"type": "point", "shape": "M-1,-0.18H1V0.18H-1Z", "size": 3364, "filled": true, "fill": "#008BB3", "stroke": "#000000", "strokeWidth": 2.5, "opacity": 1, "xOffset": -11.5},
"encoding": {"x": {"datum": "2011", "type": "ordinal", "axis": {"labelAngle": -45, "labelPadding": 11, "title": null}}, "y": {"datum": 32.07, "type": "quantitative", "axis": {"values": [0,5,10,15,20,25,30,35], "minExtent": 64, "title": null}}}},
{"data": {"values": [{}]}, "mark": {"type": "point", "shape": "stroke", "size": 3025, "filled": false, "stroke": "#E60000", "strokeWidth": 5, "strokeDash": [12, 9], "strokeCap": "round", "opacity": 1, "xOffset": -13.5},
"encoding": {"x": {"datum": "2011", "type": "ordinal", "axis": {"labelAngle": -45, "labelPadding": 11, "title": null}}, "y": {"datum": 28.28, "type": "quantitative", "axis": {"values": [0,5,10,15,20,25,30,35], "minExtent": 64, "title": null}}}},
{"data": {"values": [{}]}, "mark": {"type": "text", "align": "left", "baseline": "alphabetic", "dx": 24.5},
"encoding": {"x": {"datum": "2011", "type": "ordinal", "axis": {"labelAngle": -45, "labelPadding": 11, "title": null}}, "y": {"datum": 31.42, "type": "quantitative", "axis": {"values": [0,5,10,15,20,25,30,35], "minExtent": 64, "title": null}}, "text": {"value": "Capital adequacy ratio"}}},
{"data": {"values": [{}]}, "mark": {"type": "text", "align": "left", "baseline": "alphabetic", "dx": 24.5},
"encoding": {"x": {"datum": "2011", "type": "ordinal", "axis": {"labelAngle": -45, "labelPadding": 11, "title": null}}, "y": {"datum": 27.63, "type": "quantitative", "axis": {"values": [0,5,10,15,20,25,30,35], "minExtent": 64, "title": null}}, "text": {"value": "Return on equity"}}}
]
},
{
"width": 438, "height": 376,
"title": {"text": "....while reserve money grew further in 2012.", "dx": -13, "offset": 18},
"layer": [
{"layer": [
{"data": {"name": "p6"}, "mark": {"type": "bar", "fill": "#008BB3", "stroke": "#000000", "strokeWidth": 1.5, "width": 27.4, "xOffset": -13.7},
"encoding": {
"x": {"field": "year", "type": "quantitative", "scale": {"domain": [2004.5, 2012.5], "nice": false, "zero": false}, "axis": {"values": [2005,2006,2007,2008,2009,2010,2011,2012], "labelExpr": "'' + datum.value", "labelPadding": 24, "labelFlush": false, "labelOverlap": false, "title": null}},
"y": {"field": "res", "type": "quantitative", "scale": {"domain": [-60, 80], "nice": false}, "axis": {"values": [-60,-40,-20,0,20,40,60,80], "labelExpr": "'' + datum.value", "minExtent": 64, "title": null}}}},
{"data": {"name": "p6"}, "mark": {"type": "bar", "fill": "#C8C8C8", "stroke": "#000000", "strokeWidth": 1.5, "width": 27.4, "xOffset": 13.7},
"encoding": {"x": {"field": "year", "type": "quantitative", "axis": {"values": [2005,2006,2007,2008,2009,2010,2011,2012], "labelExpr": "'' + datum.value", "labelPadding": 24, "labelFlush": false, "labelOverlap": false, "title": null}}, "y": {"field": "ncp", "type": "quantitative", "axis": {"values": [-60,-40,-20,0,20,40,60,80], "labelExpr": "'' + datum.value", "minExtent": 64, "title": null}}}},
{"data": {"values": [{}]}, "mark": {"type": "rule", "color": "#BFBFBF", "strokeWidth": 2.5},
"encoding": {"y": {"datum": 0, "type": "quantitative", "axis": {"values": [-60,-40,-20,0,20,40,60,80], "labelExpr": "'' + datum.value", "minExtent": 64, "title": null}}}},
{"data": {"values": [{}]}, "mark": {"type": "text", "align": "left", "baseline": "alphabetic", "lineBreak": "\n", "lineHeight": 25},
"encoding": {"x": {"datum": 2004.66, "type": "quantitative", "axis": {"values": [2005,2006,2007,2008,2009,2010,2011,2012], "labelExpr": "'' + datum.value", "labelPadding": 24, "labelFlush": false, "labelOverlap": false, "title": null}}, "y": {"datum": 70.37, "type": "quantitative", "axis": {"values": [-60,-40,-20,0,20,40,60,80], "labelExpr": "'' + datum.value", "minExtent": 64, "title": null}}, "text": {"value": "Central Bank Balance Sheet\n(In TT$, billions)"}}},
{"data": {"values": [{}]}, "mark": {"type": "text", "align": "left", "baseline": "alphabetic", "fontSize": 15},
"encoding": {"x": {"datum": 2004.79, "type": "quantitative", "axis": {"values": [2005,2006,2007,2008,2009,2010,2011,2012], "labelExpr": "'' + datum.value", "labelPadding": 24, "labelFlush": false, "labelOverlap": false, "title": null}}, "y": {"datum": 48.0, "type": "quantitative", "axis": {"values": [-60,-40,-20,0,20,40,60,80], "labelExpr": "'' + datum.value", "minExtent": 64, "title": null}}, "text": {"value": "Official reserves"}}},
{"data": {"values": [{}]}, "mark": {"type": "rule", "color": "#000000", "strokeWidth": 1.5},
"encoding": {"x": {"datum": 2005.486, "type": "quantitative", "axis": {"values": [2005,2006,2007,2008,2009,2010,2011,2012], "labelExpr": "'' + datum.value", "labelPadding": 24, "labelFlush": false, "labelOverlap": false, "title": null}}, "x2": {"datum": 2006.473}, "y": {"datum": 46.2, "type": "quantitative", "axis": {"values": [-60,-40,-20,0,20,40,60,80], "labelExpr": "'' + datum.value", "minExtent": 64, "title": null}}, "y2": {"datum": 30.9}}},
{"data": {"values": [{}]}, "mark": {"type": "text", "align": "center", "baseline": "alphabetic", "fontSize": 15, "lineBreak": "\n", "lineHeight": 22},
"encoding": {"x": {"datum": 2006.065, "type": "quantitative", "axis": {"values": [2005,2006,2007,2008,2009,2010,2011,2012], "labelExpr": "'' + datum.value", "labelPadding": 24, "labelFlush": false, "labelOverlap": false, "title": null}}, "y": {"datum": -48.0, "type": "quantitative", "axis": {"values": [-60,-40,-20,0,20,40,60,80], "labelExpr": "'' + datum.value", "minExtent": 64, "title": null}}, "text": {"value": "Net credit to public\nsector"}}},
{"data": {"values": [{}]}, "mark": {"type": "rule", "color": "#000000", "strokeWidth": 1.5},
"encoding": {"x": {"datum": 2006.27, "type": "quantitative", "axis": {"values": [2005,2006,2007,2008,2009,2010,2011,2012], "labelExpr": "'' + datum.value", "labelPadding": 24, "labelFlush": false, "labelOverlap": false, "title": null}}, "x2": {"datum": 2007.13}, "y": {"datum": -42.8, "type": "quantitative", "axis": {"values": [-60,-40,-20,0,20,40,60,80], "labelExpr": "'' + datum.value", "minExtent": 64, "title": null}}, "y2": {"datum": -27.9}}},
{"data": {"values": [{}]}, "mark": {"type": "point", "shape": "stroke", "size": 3025, "filled": false, "stroke": "#E60000", "strokeWidth": 5, "strokeDash": [12, 9], "strokeCap": "round", "opacity": 1},
"encoding": {"x": {"datum": 2008.5, "type": "quantitative", "axis": {"values": [2005,2006,2007,2008,2009,2010,2011,2012], "labelExpr": "'' + datum.value", "labelPadding": 24, "labelFlush": false, "labelOverlap": false, "title": null}}, "y": {"datum": -46.5, "type": "quantitative", "axis": {"values": [-60,-40,-20,0,20,40,60,80], "labelExpr": "'' + datum.value", "minExtent": 64, "title": null}}}},
{"data": {"values": [{}]}, "mark": {"type": "text", "align": "left", "baseline": "alphabetic", "fontSize": 15},
"encoding": {"x": {"datum": 2009.19, "type": "quantitative", "axis": {"values": [2005,2006,2007,2008,2009,2010,2011,2012], "labelExpr": "'' + datum.value", "labelPadding": 24, "labelFlush": false, "labelOverlap": false, "title": null}}, "y": {"datum": -48.4, "type": "quantitative", "axis": {"values": [-60,-40,-20,0,20,40,60,80], "labelExpr": "'' + datum.value", "minExtent": 64, "title": null}}, "text": {"value": "Reserve money (RHS)"}}}
]},
{"data": {"name": "p6"}, "mark": {"type": "line", "color": "#E60000", "strokeWidth": 5, "strokeDash": [12, 9], "strokeCap": "round", "interpolate": "monotone"},
"encoding": {"x": {"field": "year", "type": "quantitative", "axis": {"values": [2005,2006,2007,2008,2009,2010,2011,2012], "labelExpr": "'' + datum.value", "labelPadding": 24, "labelFlush": false, "labelOverlap": false, "title": null}}, "y": {"field": "rm", "type": "quantitative", "scale": {"domain": [0, 35], "nice": false}, "axis": {"orient": "right", "values": [0,5,10,15,20,25,30,35], "labelPadding": 4, "title": null}}}}
],
"resolve": {"scale": {"y": "independent"}}
}
], "spacing": 30}
], "spacing": 10}
], "spacing": -7}
],
"spacing": -16,
"config": {
"font": "Open Sans",
"view": {"stroke": "#C8C8C8", "strokeWidth": 2.5},
"axis": {"labelFontSize": 17.5, "labelColor": "#000000", "labelFont": "Open Sans", "domain": false, "ticks": false, "grid": false, "labelPadding": 20},
"title": {"fontSize": 18, "fontStyle": "italic", "fontWeight": "normal", "color": "#000000", "lineHeight": 24.5, "frame": "group", "anchor": "middle", "font": "Open Sans"},
"text": {"font": "Open Sans", "fontSize": 17.5, "color": "#000000"}
}
}
